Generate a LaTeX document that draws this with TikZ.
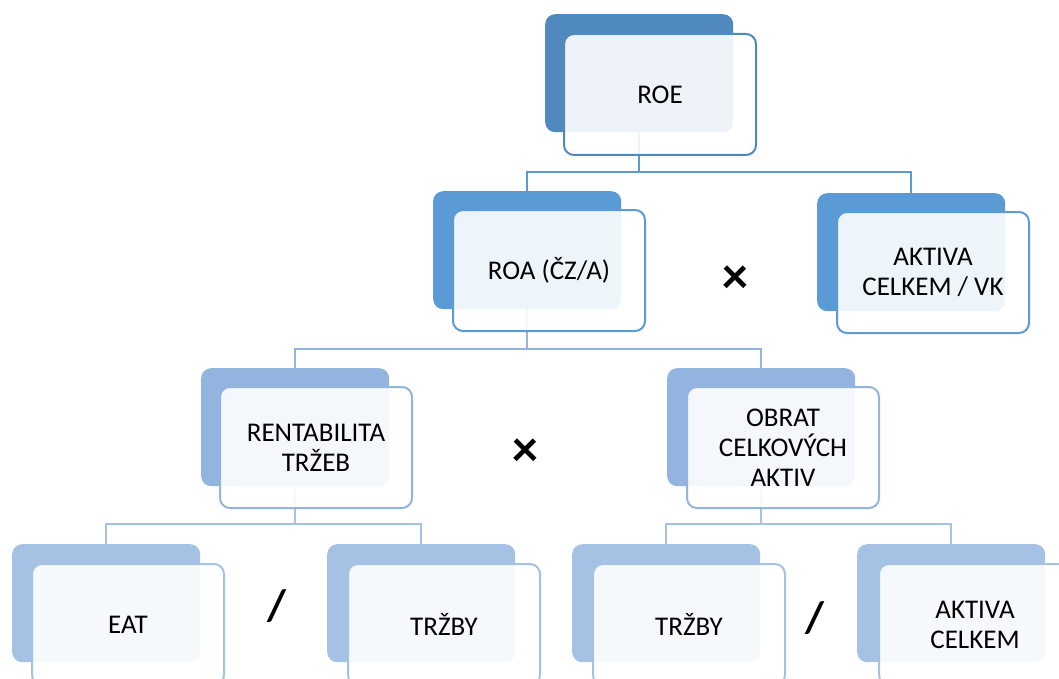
\documentclass[tikz,border=0pt]{standalone}
\usepackage{fontspec}
\setmainfont{Carlito}
\usetikzlibrary{calc}
\pgfdeclarelayer{bg}
\pgfsetlayers{bg,main}
\definecolor{cA}{RGB}{79,137,192}
\definecolor{cB}{RGB}{91,155,213}
\definecolor{cC}{RGB}{146,180,223}
\definecolor{cD}{RGB}{165,194,228}
\begin{document}
\begin{tikzpicture}[x=1pt,y=-1pt,
  backbox/.style={anchor=north west, minimum width=188pt, minimum height=118pt, inner sep=0pt, rounded corners=10pt},
  frontbox/.style={anchor=north west, minimum width=192pt, minimum height=121pt, inner sep=0pt, rounded corners=10pt, fill=white, fill opacity=0.9, text opacity=1, line width=2pt, align=center, font=\fontsize{27}{30}\selectfont},
  conn/.style={line width=2pt},
  op/.style={inner sep=0pt, font=\fontsize{52}{52}\selectfont\bfseries},
  sl/.style={inner sep=0pt, font=\fontsize{44}{44}\selectfont\bfseries}]
\path[use as bounding box] (0,0) rectangle (1059,679);
\clip (0,0) rectangle (1059,679);
% back boxes
\node[backbox, fill=cA] (roeB) at (545,14) {};
\node[backbox, fill=cB] (roaB) at (433,191) {};
\node[backbox, fill=cB] (avkB) at (817,193) {};
\node[backbox, fill=cC] (rentB) at (201,368) {};
\node[backbox, fill=cC] (obratB) at (667,368) {};
\node[backbox, fill=cD] (eatB) at (12,544) {};
\node[backbox, fill=cD] (trzaB) at (327,544) {};
\node[backbox, fill=cD] (trzbB) at (572,544) {};
\node[backbox, fill=cD] (acB) at (857,544) {};
% front boxes
\node[frontbox, draw=cA] (roe) at (563,33) {ROE};
\node[frontbox, draw=cB] (roa) at (452,209) {ROA (ČZ/A)};
\node[frontbox, draw=cB] (avk) at (836,211) {AKTIVA\\CELKEM / VK};
\node[frontbox, draw=cC] (rent) at (219,386) {RENTABILITA\\TRŽEB};
\node[frontbox, draw=cC] (obrat) at (686,386) {OBRAT\\CELKOVÝCH\\AKTIV};
\node[frontbox, draw=cD] (eat) at (31,563) {EAT};
\node[frontbox, draw=cD] (trza) at (347,563) {TRŽBY};
\node[frontbox, draw=cD] (trzb) at (592,563) {TRŽBY};
\node[frontbox, draw=cD] (ac) at (878,563) {AKTIVA\\CELKEM};
% operators
\node[op] (x1) at (735,280) {×};
\node[op] (x2) at (525,453) {×};
\node[sl] (s1) at (277,606) {/};
\node[sl] (s2) at (815,618) {/};
% connectors
\begin{pgfonlayer}{bg}
\coordinate (j1) at ($(roeB.south)+(0,40)$);
\coordinate (j2) at ($(roaB.south)+(0,40)$);
\coordinate (j3) at ($(rentB.south)+(0,38)$);
\coordinate (j4) at ($(obratB.south)+(0,38)$);
\draw[conn, draw=cB] (roeB.south) -- (j1);
\draw[conn, draw=cB] (roaB.north) |- (j1) -| (avkB.north);
\draw[conn, draw=cC] (roaB.south) -- (j2);
\draw[conn, draw=cC] (rentB.north) |- (j2) -| (obratB.north);
\draw[conn, draw=cD] (rentB.south) -- (j3);
\draw[conn, draw=cD] (eatB.north) |- (j3) -| (trzaB.north);
\draw[conn, draw=cD] (obratB.south) -- (j4);
\draw[conn, draw=cD] (trzbB.north) |- (j4) -| (acB.north);
\end{pgfonlayer}
\end{tikzpicture}
\end{document}
